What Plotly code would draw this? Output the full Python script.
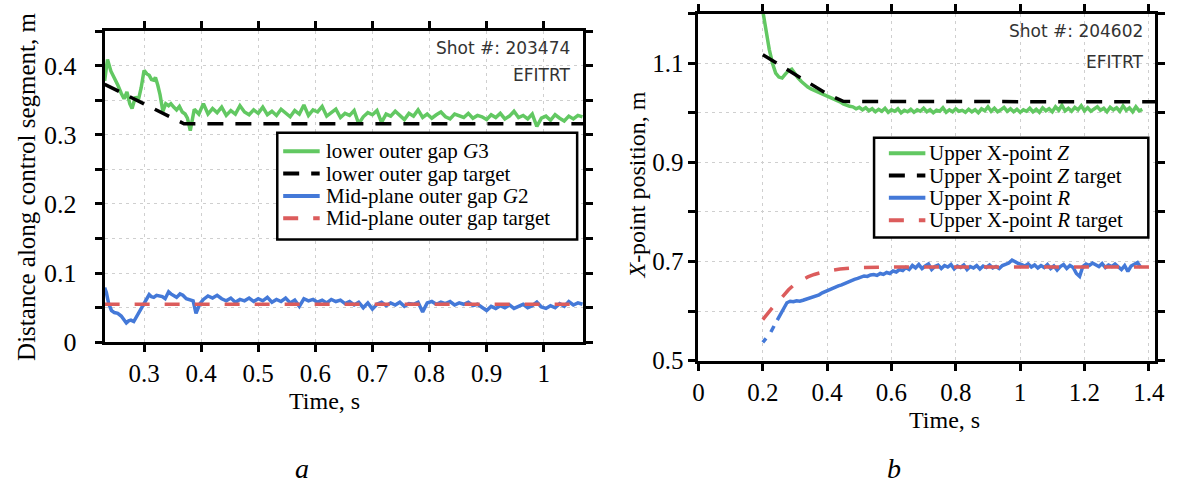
import plotly.graph_objects as go

# ---------------- Panel a: shot 203474, outer gaps ----------------
t_a_g3 = [0.231, 0.236, 0.242, 0.248, 0.254, 0.260, 0.265, 0.270, 0.275, 0.279, 0.285,
          0.290, 0.295, 0.300, 0.305, 0.309, 0.313, 0.317, 0.320, 0.324, 0.328, 0.333,
          0.338, 0.343, 0.347, 0.352, 0.357, 0.362, 0.367, 0.372, 0.376, 0.381, 0.388,
          0.396,
          0.404, 0.412, 0.420, 0.428, 0.436, 0.444, 0.452, 0.460, 0.468, 0.476, 0.484,
          0.492, 0.500, 0.508, 0.516, 0.524, 0.532, 0.540, 0.548, 0.556, 0.564, 0.572,
          0.580, 0.588, 0.596, 0.604, 0.612, 0.620, 0.628, 0.636, 0.644, 0.652, 0.660,
          0.668, 0.676, 0.684, 0.692, 0.700, 0.708, 0.716, 0.724, 0.732, 0.740, 0.748,
          0.756, 0.764, 0.772, 0.780, 0.788, 0.796, 0.804, 0.812, 0.820, 0.828, 0.836,
          0.844, 0.852, 0.860, 0.868, 0.876, 0.884, 0.892, 0.900, 0.908, 0.916, 0.924,
          0.932, 0.940, 0.948, 0.956, 0.964, 0.972, 0.980, 0.988, 0.996, 1.004, 1.012,
          1.020, 1.028, 1.036, 1.044, 1.052, 1.060, 1.068]
g3_lower_gap = [0.378, 0.409, 0.392, 0.383, 0.372, 0.360, 0.352, 0.362, 0.345, 0.338, 0.355,
                0.350, 0.368, 0.393, 0.388, 0.386, 0.380, 0.379, 0.383, 0.372, 0.358, 0.334,
                0.345, 0.342, 0.345, 0.340, 0.336, 0.341, 0.333, 0.330, 0.324, 0.306, 0.337,
                0.330,
                0.345, 0.330, 0.338, 0.332, 0.340, 0.328, 0.335, 0.330, 0.342, 0.333, 0.329,
                0.336, 0.331, 0.340, 0.329, 0.334, 0.328, 0.337, 0.331, 0.326, 0.335, 0.330,
                0.343, 0.328, 0.336, 0.333, 0.341, 0.327, 0.332, 0.337, 0.325, 0.331, 0.328,
                0.335, 0.316, 0.326, 0.332, 0.329, 0.335, 0.318, 0.330, 0.327, 0.334, 0.328,
                0.322, 0.331, 0.327, 0.336, 0.325, 0.330, 0.324, 0.329, 0.333, 0.326, 0.323,
                0.330, 0.327, 0.325, 0.331, 0.324, 0.328, 0.326, 0.322, 0.329, 0.325, 0.331,
                0.323, 0.327, 0.334, 0.325, 0.328, 0.323, 0.330, 0.312, 0.324, 0.327, 0.321,
                0.329, 0.324, 0.320, 0.327, 0.323, 0.328, 0.326]

t_a_g3_target = [0.231, 0.370, 1.069]
g3_target = [0.373, 0.316, 0.316]

t_a_g2 = [0.231, 0.234, 0.238, 0.243, 0.248, 0.254, 0.260, 0.265, 0.269, 0.273, 0.277,
          0.282, 0.288, 0.294, 0.300, 0.305, 0.309, 0.313, 0.317, 0.322, 0.328, 0.332,
          0.337, 0.343, 0.347, 0.352, 0.357, 0.363, 0.368, 0.374, 0.380, 0.386, 0.391,
          0.398,
          0.404, 0.412, 0.420, 0.428, 0.436, 0.444, 0.452, 0.460, 0.468, 0.476, 0.484,
          0.492, 0.500, 0.508, 0.516, 0.524, 0.532, 0.540, 0.548, 0.556, 0.564, 0.572,
          0.580, 0.588, 0.596, 0.604, 0.612, 0.620, 0.628, 0.636, 0.644, 0.652, 0.660,
          0.668, 0.676, 0.684, 0.692, 0.700, 0.708, 0.716, 0.724, 0.732, 0.740, 0.748,
          0.756, 0.764, 0.772, 0.780, 0.788, 0.796, 0.804, 0.812, 0.820, 0.828, 0.836,
          0.844, 0.852, 0.860, 0.868, 0.876, 0.884, 0.892, 0.900, 0.908, 0.916, 0.924,
          0.932, 0.940, 0.948, 0.956, 0.964, 0.972, 0.980, 0.988, 0.996, 1.004, 1.012,
          1.020, 1.028, 1.036, 1.044, 1.052, 1.060, 1.068]
g2_midplane_gap = [0.079, 0.072, 0.056, 0.046, 0.043, 0.042, 0.038, 0.033, 0.028, 0.031, 0.032,
                   0.030, 0.039, 0.046, 0.056, 0.062, 0.069, 0.066, 0.065, 0.068, 0.067, 0.066,
                   0.063, 0.073, 0.070, 0.067, 0.065, 0.070, 0.068, 0.063, 0.062, 0.060, 0.042,
                   0.056,
                   0.062, 0.067, 0.064, 0.068, 0.063, 0.060, 0.064, 0.058, 0.062, 0.060, 0.064,
                   0.059, 0.063, 0.060, 0.065, 0.058, 0.062, 0.059, 0.064, 0.057, 0.061, 0.052,
                   0.063, 0.060, 0.062, 0.058, 0.061, 0.057, 0.062, 0.059, 0.061, 0.056, 0.059,
                   0.054, 0.058, 0.050, 0.057, 0.048, 0.055, 0.058, 0.053, 0.057, 0.054, 0.058,
                   0.052, 0.056, 0.055, 0.058, 0.044, 0.057, 0.059, 0.055, 0.058, 0.056, 0.059,
                   0.054, 0.057, 0.055, 0.058, 0.053, 0.055, 0.051, 0.046, 0.052, 0.049, 0.053,
                   0.050, 0.054, 0.049, 0.052, 0.055, 0.050, 0.053, 0.058, 0.051, 0.049, 0.053,
                   0.050, 0.056, 0.052, 0.059, 0.054, 0.057, 0.055]

t_a_g2_target = [0.231, 1.060]
g2_target = [0.055, 0.055]

legend_a = ["lower outer gap <i>G</i>3", "lower outer gap target",
            "Mid-plane outer gap <i>G</i>2", "Mid-plane outer gap target"]

# ---------------- Panel b: shot 204602, upper X-point ----------------
t_b_z = [0.200, 0.210, 0.220, 0.230, 0.240, 0.250, 0.260, 0.270, 0.280, 0.290, 0.300,
         0.310, 0.320, 0.330, 0.340, 0.350, 0.360, 0.370, 0.380, 0.390, 0.400, 0.410,
         0.420, 0.430, 0.440, 0.450, 0.460, 0.470,
         0.48, 0.49, 0.50, 0.51, 0.52, 0.53, 0.54, 0.55, 0.56, 0.57, 0.58, 0.59, 0.60,
         0.61, 0.62, 0.63, 0.64, 0.65, 0.66, 0.67, 0.68, 0.69, 0.70, 0.71, 0.72, 0.73,
         0.74, 0.75, 0.76, 0.77, 0.78, 0.79, 0.80, 0.81, 0.82, 0.83, 0.84, 0.85, 0.86,
         0.87, 0.88, 0.89, 0.90, 0.91, 0.92, 0.93, 0.94, 0.95, 0.96, 0.97, 0.98, 0.99,
         1.00, 1.01, 1.02, 1.03, 1.04, 1.05, 1.06, 1.07, 1.08, 1.09, 1.10, 1.11, 1.12,
         1.13, 1.14, 1.15, 1.16, 1.17, 1.18, 1.19, 1.20, 1.21, 1.22, 1.23, 1.24, 1.25,
         1.26, 1.27, 1.28, 1.29, 1.30, 1.31, 1.32, 1.33, 1.34, 1.35, 1.36, 1.37, 1.38]
xpoint_z = [1.205, 1.165, 1.128, 1.100, 1.080, 1.072, 1.070, 1.078, 1.085, 1.088, 1.078,
            1.070, 1.063, 1.057, 1.052, 1.048, 1.045, 1.042, 1.040, 1.037, 1.035, 1.032,
            1.028, 1.026, 1.022, 1.018, 1.015, 1.013,
            1.012, 1.008, 1.011, 1.006, 1.010, 1.004, 1.008, 1.002, 1.007, 1.003, 1.009,
            1.001, 1.006, 1.003, 1.008, 1.000, 1.005, 1.002, 1.007, 1.001, 1.006, 1.003,
            1.009, 1.002, 1.006, 1.000, 1.005, 1.003, 1.010, 1.001, 1.006, 1.002, 1.008,
            1.003, 1.005, 1.001, 1.007, 1.002, 1.006, 1.000, 1.008, 1.004, 1.012, 1.003,
            1.009, 1.002, 1.006, 1.011, 1.003, 1.008, 1.002, 1.007, 1.001, 1.006, 1.003,
            1.009, 1.002, 1.007, 1.001, 1.010, 1.004, 1.008, 1.002, 1.012, 1.005, 1.015,
            1.004, 1.009, 1.003, 1.011, 1.006, 1.014, 1.004, 1.010, 1.003, 1.008, 1.012,
            1.005, 1.009, 1.002, 1.011, 1.006, 1.010, 1.003, 1.014, 1.005, 1.010, 1.002,
            1.012, 1.004, 1.007]

t_b_z_target = [0.20, 0.25, 0.30, 0.35, 0.40, 0.45, 1.42]
xpoint_z_target = [1.117, 1.097, 1.077, 1.058, 1.038, 1.023, 1.022]

t_b_r = [0.200, 0.210, None, 0.225, 0.235, None, 0.245, 0.255, 0.265, 0.275, 0.285,
         0.295, 0.305, 0.315, 0.325, 0.335, 0.345, 0.355, 0.365, 0.375, 0.385, 0.395,
         0.405, 0.415, 0.425, 0.435, 0.445, 0.455, 0.465, 0.475, 0.485, 0.495, 0.505,
         0.515, 0.525, 0.535, 0.545, 0.555, 0.565, 0.575, 0.585, 0.595, 0.605, 0.615,
         0.625, 0.635, 0.645,
         0.655, 0.665, 0.675, 0.685, 0.695, 0.705, 0.715, 0.725, 0.735, 0.745, 0.755,
         0.765, 0.775, 0.785, 0.795, 0.805, 0.815, 0.825, 0.835, 0.845, 0.855, 0.865,
         0.875, 0.885, 0.895, 0.905, 0.915, 0.925, 0.935, 0.945, 0.955, 0.965, 0.975,
         0.985, 0.995, 1.005, 1.015, 1.025, 1.035, 1.045, 1.055, 1.065, 1.075, 1.085,
         1.095, 1.105, 1.115, 1.125, 1.135, 1.145, 1.155, 1.165, 1.175, 1.185, 1.195,
         1.205, 1.215, 1.225, 1.235, 1.245, 1.255, 1.265, 1.275, 1.285, 1.295, 1.305,
         1.315, 1.325, 1.335, 1.345, 1.355, 1.365, 1.375]
xpoint_r = [0.537, 0.545, None, 0.558, 0.570, None, 0.582, 0.595, 0.607, 0.617, 0.620,
            0.619, 0.621, 0.620, 0.622, 0.624, 0.626, 0.628, 0.630, 0.633, 0.637, 0.640,
            0.642, 0.645, 0.648, 0.651, 0.653, 0.656, 0.658, 0.661, 0.664, 0.666, 0.669,
            0.671, 0.670, 0.673, 0.674, 0.672, 0.676, 0.674, 0.678, 0.676, 0.681, 0.679,
            0.684, 0.682, 0.688,
            0.684, 0.692, 0.687, 0.694, 0.686, 0.691, 0.695, 0.684, 0.690, 0.693, 0.686,
            0.692, 0.689, 0.694, 0.685, 0.691, 0.688, 0.693, 0.684, 0.690, 0.687, 0.692,
            0.685, 0.691, 0.688, 0.693, 0.687, 0.690, 0.686, 0.692, 0.694, 0.697, 0.703,
            0.699, 0.696, 0.694, 0.691, 0.695, 0.689, 0.693, 0.687, 0.692, 0.688, 0.694,
            0.686, 0.691, 0.683, 0.690, 0.694, 0.686, 0.692, 0.688, 0.676, 0.670, 0.690,
            0.695, 0.692, 0.697, 0.693, 0.690, 0.696, 0.688, 0.693, 0.690, 0.695, 0.689,
            0.684, 0.692, 0.680, 0.691, 0.694, 0.698, 0.688]

t_b_r_target = [0.20, 0.22, 0.24, 0.26, 0.28, 0.30, 0.32, 0.34, 0.36, 0.38, 0.40, 0.44,
                0.50, 0.60, 1.42]
xpoint_r_target = [0.583, 0.600, 0.615, 0.628, 0.643, 0.655, 0.663, 0.669, 0.674, 0.678,
                   0.681, 0.685, 0.688, 0.689, 0.689]

legend_b = ["Upper X-point <i>Z</i>", "Upper X-point <i>Z</i> target",
            "Upper X-point <i>R</i>", "Upper X-point <i>R</i> target"]

# ---------------- styling ----------------
W, H = 1180, 496
GREEN = "#62c862"
BLUE = "#4479d8"
RED = "#dc5c5c"
BLACK = "#000000"
SERIF = "Liberation Serif"
SANS = "DejaVu Sans"

MEAS = dict(width=3.5)
TARGET_BLACK = dict(color=BLACK, width=3.5, dash="16px,12px")
TARGET_RED = dict(color=RED, width=3.5, dash="15px,15px")
styles = [dict(MEAS, color=GREEN), TARGET_BLACK, dict(MEAS, color=BLUE), TARGET_RED]


def px(x, y):
    """Pixel position -> paper coordinates."""
    return x / W, 1 - y / H


fig = go.Figure()

# panel a traces
for tx, vy, st, nm in [(t_a_g3, g3_lower_gap, styles[0], legend_a[0]),
                       (t_a_g3_target, g3_target, styles[1], legend_a[1]),
                       (t_a_g2, g2_midplane_gap, styles[2], legend_a[2]),
                       (t_a_g2_target, g2_target, styles[3], legend_a[3])]:
    fig.add_trace(go.Scatter(x=tx, y=vy, mode="lines", name=nm, line=st,
                             xaxis="x", yaxis="y", showlegend=False))

# panel b traces
for tx, vy, st, nm in [(t_b_z, xpoint_z, styles[0], legend_b[0]),
                       (t_b_z_target, xpoint_z_target, styles[1], legend_b[1]),
                       (t_b_r, xpoint_r, styles[2], legend_b[2]),
                       (t_b_r_target, xpoint_r_target, styles[3], legend_b[3])]:
    fig.add_trace(go.Scatter(x=tx, y=vy, mode="lines", name=nm, line=st, connectgaps=False,
                             xaxis="x2", yaxis="y2", showlegend=False))

axis_common = dict(
    showline=True, linecolor="black", linewidth=3, mirror="ticks",
    ticks="outside", ticklen=7, tickwidth=2.5, tickcolor="black",
    showgrid=True, gridcolor="#cfcfcf", gridwidth=1, griddash="3px,4px",
    zeroline=False,
)
minor_common = dict(ticks="outside", ticklen=7, tickwidth=2.5, tickcolor="black",
                    showgrid=True, gridcolor="#cfcfcf", griddash="3px,4px")

fig.update_layout(
    width=W, height=H,
    margin=dict(l=0, r=0, t=0, b=0),
    paper_bgcolor="white", plot_bgcolor="white",
    font=dict(family=SERIF, size=24, color="black"),
    showlegend=False,
    xaxis=dict(axis_common, domain=[100 / W, 585 / W], range=[0.231, 1.069],
               tick0=0, dtick=0.1, anchor="y",
               tickfont=dict(family=SERIF, size=25, color="black")),
    yaxis=dict(axis_common, domain=[1 - 353 / H, 1 - 32 / H], range=[0, 0.45],
               tick0=0, dtick=0.1, anchor="x", ticklabelstandoff=13,
               tickfont=dict(family=SERIF, size=26, color="black"),
               minor=dict(minor_common, dtick=0.05)),
    xaxis2=dict(axis_common, domain=[702 / W, 1165 / W], range=[0, 1.42],
                tick0=0, dtick=0.2, anchor="y2",
                tickfont=dict(family=SERIF, size=25, color="black")),
    yaxis2=dict(axis_common, domain=[1 - 372 / H, 1 - 14 / H], range=[0.5, 1.2],
                tick0=0.5, dtick=0.2, anchor="x2",
                tickfont=dict(family=SERIF, size=25, color="black"),
                minor=dict(minor_common, dtick=0.1)),
)

annotations = []
shapes = []


def note(x, y, text, size, family, xanchor="center", angle=0, color="black"):
    ax, ay = px(x, y)
    annotations.append(dict(x=ax, y=ay, xref="paper", yref="paper", text=text,
                            showarrow=False, xanchor=xanchor, yanchor="middle",
                            textangle=angle, font=dict(family=family, size=size, color=color)))


def legend_box(x0, y0, x1, y1, key_x0, key_x1, text_x, rows, labels):
    """Boxed legend: key line samples followed by the entry labels."""
    bx0, by0 = px(x0, y0)
    bx1, by1 = px(x1, y1)
    shapes.append(dict(type="rect", xref="paper", yref="paper", x0=bx0, y0=by1, x1=bx1, y1=by0,
                       line=dict(color="black", width=2.5), fillcolor="white", layer="above"))
    for row, st, lab in zip(rows, styles, labels):
        kx0, ky = px(key_x0, row)
        kx1, _ = px(key_x1, row)
        shapes.append(dict(type="line", xref="paper", yref="paper", x0=kx0, x1=kx1, y0=ky, y1=ky,
                           line=dict(color=st["color"], width=4, dash=st.get("dash", "solid")),
                           layer="above"))
        note(text_x, row, lab, 21, SERIF, xanchor="left")


legend_box(275, 137, 579, 247, 281, 318, 322, [156, 179, 202, 225], legend_a)
legend_box(880, 142, 1158, 245, 895, 932, 934, [158, 181, 204, 227], legend_b)

# axis titles
note(323, 413, "Time, s", 24, SERIF)
note(20, 193, "Distance along control segment, m", 25, SERIF, angle=-90)
note(951, 433, "Time, s", 24, SERIF)
note(640, 191, "<i>X</i>-point position, m", 24, SERIF, angle=-90)
# shot labels
note(574, 50, "Shot #: 203474", 17, SANS, xanchor="right", color="#333333")
note(574, 77, "EFITRT", 17, SANS, xanchor="right", color="#333333")
note(1155, 32, "Shot #: 204602", 17, SANS, xanchor="right", color="#333333")
note(1155, 64, "EFITRT", 17, SANS, xanchor="right", color="#333333")
# panel letters
note(300, 483, "<i>a</i>", 28, SERIF)
note(900, 483, "<i>b</i>", 28, SERIF)

fig.update_layout(annotations=annotations, shapes=shapes)

fig.write_html("out.html")
